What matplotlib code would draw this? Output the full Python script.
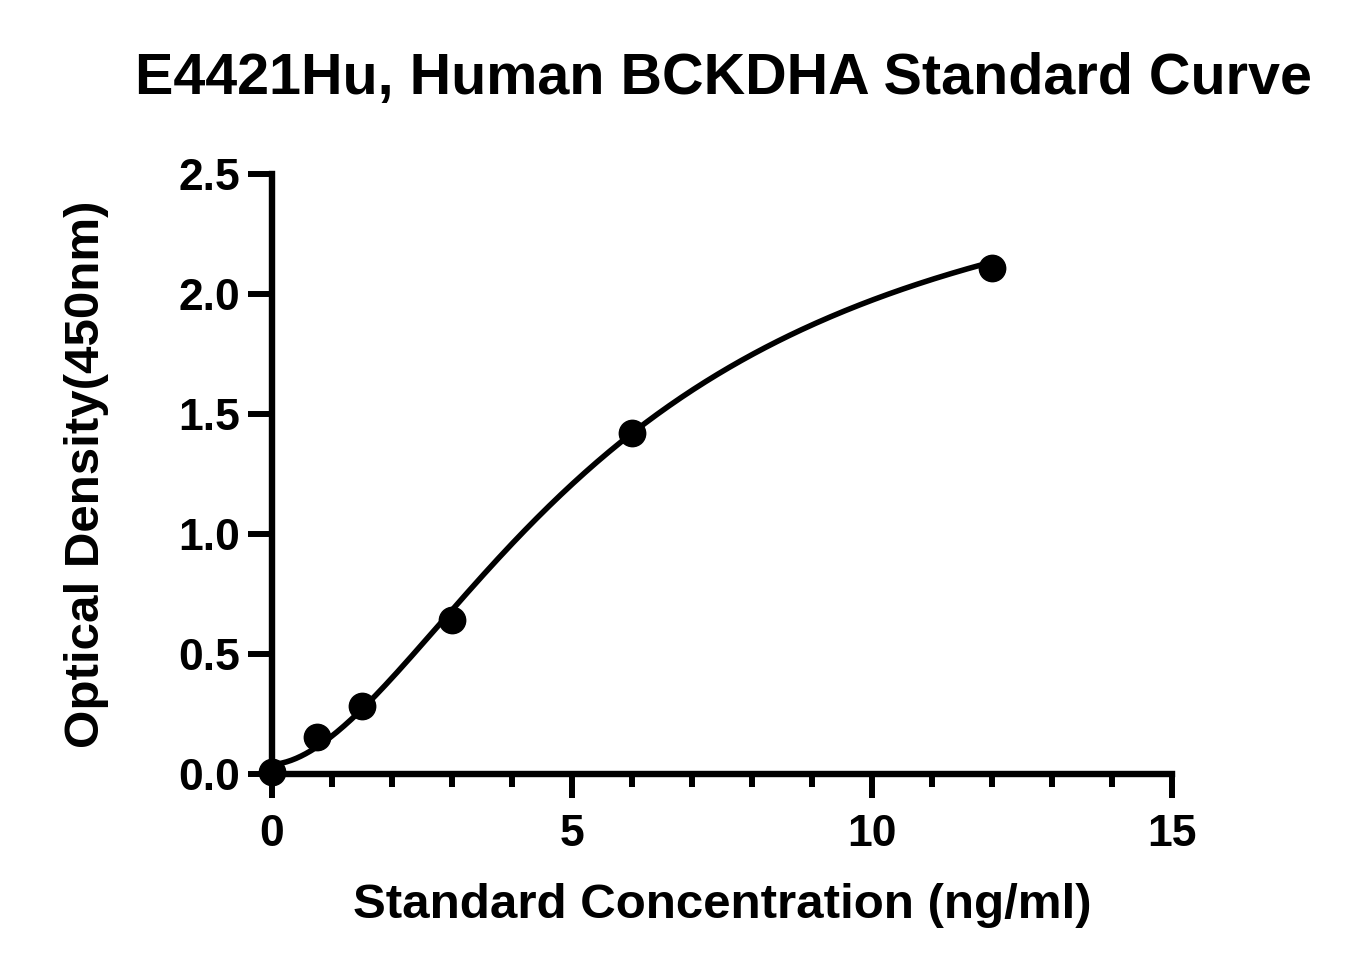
import matplotlib
matplotlib.use("Agg")
import matplotlib.pyplot as plt
import numpy as np
from matplotlib.ticker import MultipleLocator

plt.rcParams['font.family'] = ['Liberation Sans', 'DejaVu Sans']
plt.rcParams['font.weight'] = 'bold'

# standard points
conc = [0, 0.75, 1.5, 3, 6, 12]
od = [0.01, 0.155, 0.285, 0.64, 1.42, 2.11]

# four parameter logistic fit
fit_bottom = 0.04
fit_top = 2.72
fit_ec50 = 5.8
fit_hill = 1.75

xs = np.linspace(0, 12, 300)
ys = fit_top + (fit_bottom - fit_top) / (1 + (xs / fit_ec50) ** fit_hill)

fig = plt.figure(figsize=(13.59, 9.75), dpi=100)
ax = fig.add_axes([0.2001, 0.2062, 0.6623, 0.6153])

ax.plot(xs, ys, color='black', lw=4, zorder=2)
ax.plot(conc, od, 'o', color='black', ms=19, zorder=3, clip_on=False)

ax.set_xlim(0, 15)
ax.set_ylim(0, 2.5)
ax.set_xticks([0, 5, 10, 15])
ax.xaxis.set_minor_locator(MultipleLocator(1))
ax.set_yticks([0, 0.5, 1.0, 1.5, 2.0, 2.5])
ax.set_yticklabels(['0.0', '0.5', '1.0', '1.5', '2.0', '2.5'])

for s in ['top', 'right']:
    ax.spines[s].set_visible(False)
for s in ['left', 'bottom']:
    ax.spines[s].set_linewidth(4.6)

ax.tick_params(which='major', length=17, width=4.3, labelsize=32)
ax.tick_params(axis='x', which='major', pad=12)
ax.tick_params(axis='y', which='major', pad=6)
ax.tick_params(which='minor', length=9.5, width=4.3)
for lab in ax.get_xticklabels() + ax.get_yticklabels():
    lab.set_fontweight('bold')

ax.set_xlabel('Standard Concentration (ng/ml)', fontsize=35.5, fontweight='bold', labelpad=20)
ax.set_ylabel('Optical Density(450nm)', fontsize=35.5, fontweight='bold', labelpad=50)
fig.text(0.5327, 0.919, 'E4421Hu, Human BCKDHA Standard Curve', fontsize=41.4,
         fontweight='bold', ha='center', va='center')

fig.savefig('out.png', dpi=100)
